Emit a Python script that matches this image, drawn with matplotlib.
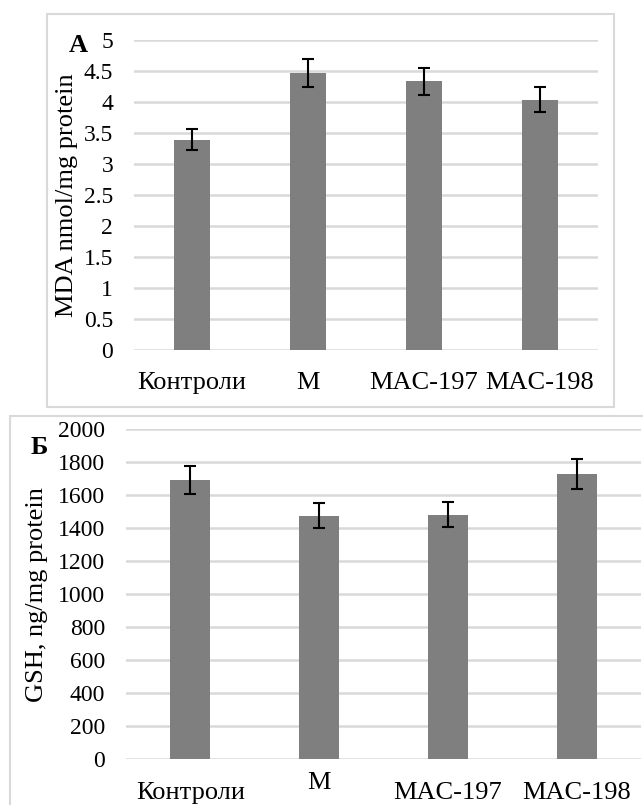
import matplotlib.pyplot as plt
import matplotlib.transforms as mtransforms
from matplotlib.patches import Rectangle

plt.rcParams['font.family'] = ['Liberation Serif', 'DejaVu Serif']

groups = ['Контроли', 'M', 'MAC-197', 'MAC-198']

mda_mean = [3.39, 4.47, 4.33, 4.03]
mda_err = [0.17, 0.225, 0.22, 0.2]

gsh_mean = [1691, 1476, 1482, 1729]
gsh_err = [85, 75, 77, 88]

bar_color = '#7f7f7f'
grid_color = '#d9d9d9'

W, H = 643, 805
fig = plt.figure(figsize=(W / 100, H / 100), dpi=100)


def fig_box(x0, y0, x1, y1):
    # pixel box (top-left origin) -> figure fraction [left, bottom, width, height]
    return [x0 / W, 1 - y1 / H, (x1 - x0) / W, (y1 - y0) / H]


def frame(x0, y0, x1, y1):
    l, b, w, h = fig_box(x0, y0, x1, y1)
    fig.patches.append(Rectangle((l, b), w, h, transform=fig.transFigure,
                                 fill=False, edgecolor=grid_color, lw=1.5, zorder=0))


def bar_panel(ax, vals, errs, ymax, step):
    x = range(len(groups))
    ax.bar(x, vals, width=0.31, color=bar_color, zorder=2)
    ax.errorbar(x, vals, yerr=errs, fmt='none', ecolor='black', elinewidth=1.5,
                capsize=4.5, capthick=1.5, zorder=3)
    ax.set_xlim(-0.5, len(groups) - 0.5)
    ax.set_ylim(0, ymax)
    ticks = [i * step for i in range(int(round(ymax / step)) + 1)]
    ax.set_yticks(ticks)
    ax.set_yticklabels([f'{t:g}' for t in ticks])
    ax.set_xticks(list(x))
    ax.set_xticklabels(groups, fontsize=19)
    ax.tick_params(axis='y', length=0, pad=15, labelsize=17)
    ax.tick_params(axis='x', length=0, pad=16)
    ax.grid(axis='y', color=grid_color, lw=1.8, zorder=0)
    for s in ax.spines.values():
        s.set_visible(False)


# panel A: MDA
frame(47, 14.5, 614, 407)
axA = fig.add_axes(fig_box(134, 39.7, 598, 349.7))
bar_panel(axA, mda_mean, mda_err, 5, 0.5)
fig.text(67 / W, 1 - 195 / H, 'MDA nmol/mg protein', fontsize=19,
         rotation=90, ha='center', va='center')
fig.text(78 / W, 1 - 45 / H, 'A', fontsize=19, fontweight='bold',
         ha='center', va='center')

# panel B: GSH
frame(10, 415.5, 660, 830)
axB = fig.add_axes(fig_box(126, 429.3, 641, 759.3))
bar_panel(axB, gsh_mean, gsh_err, 2000, 200)
fig.text(37 / W, 1 - 595 / H, 'GSH, ng/mg protein', fontsize=19,
         rotation=90, ha='center', va='center')
fig.text(39 / W, 1 - 447 / H, 'Б', fontsize=19, fontweight='bold',
         ha='center', va='center')
# the "M" label sits a bit higher in this panel
lbl = axB.get_xticklabels()[1]
lbl.set_transform(lbl.get_transform() + mtransforms.ScaledTranslation(0, 10 / 100, fig.dpi_scale_trans))

fig.savefig('out.png', dpi=100)
